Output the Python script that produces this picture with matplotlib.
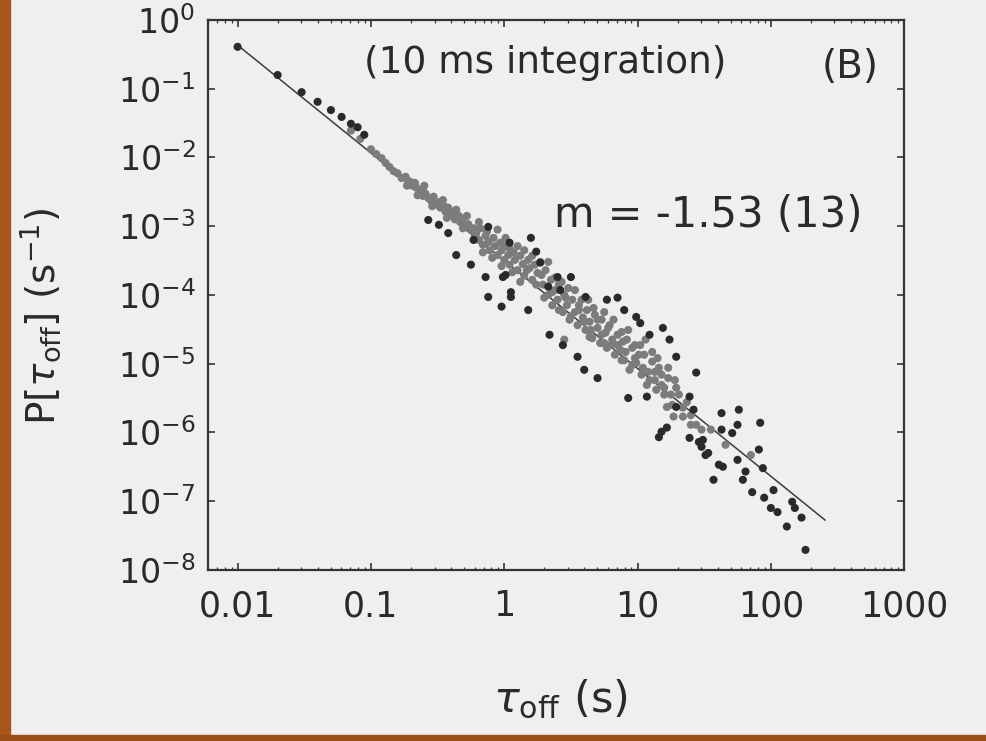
import numpy as np
import matplotlib.pyplot as plt
from matplotlib.patches import Rectangle
from matplotlib.ticker import LogLocator, NullFormatter, FixedLocator, FixedFormatter

plt.rcParams['font.family'] = ['DejaVu Sans']
plt.rcParams['mathtext.fontset'] = 'dejavusans'

# isolated dark dots as log10 values
dark_log_tau = [-2.00, -1.70, -1.52, -1.40, -1.30, -1.22, -1.15, -1.10, -1.05,
                -0.57, -0.49, -0.42, -0.36, -0.25, -0.23, -0.14, -0.12, -0.02, 0.05, -0.01,
                -0.12, 0.20, 0.04, 0.01, 0.05, 0.18, 0.24, 0.27,
                0.33, 0.34, 0.40, 0.42, 0.44, 0.50, 0.55, 0.60, 0.61, 0.70, 0.77, 0.85,
                0.90, 0.99, 1.02, 1.09, 1.19, 0.93, 1.07, 1.16, 1.24, 1.29, 1.18, 1.22,
                1.44, 1.39, 1.39, 1.49, 1.53, 1.63, 1.63, 1.61, 1.57, 1.29, 1.42, 1.46,
                1.51, 1.64, 1.71, 1.76, 1.75, 1.92, 1.91, 1.94, 1.75, 1.79, 1.81, 1.86,
                1.95, 2.02, 2.00, 2.05, 2.16, 2.18, 2.23, 2.12, 2.26, 1.48]
dark_log_p = [-0.39, -0.80, -1.05, -1.19, -1.31, -1.41, -1.51, -1.56, -1.67,
              -2.91, -2.98, -3.10, -3.42, -3.56, -3.20, -3.74, -4.03, -4.17, -4.03, -3.74,
              -3.01, -3.17, -3.24, -3.71, -3.96, -4.22, -3.37, -3.53,
              -3.88, -4.58, -3.74, -3.93, -4.73, -3.74, -4.90, -5.09, -4.03, -5.21, -4.07, -4.04,
              -4.22, -4.32, -4.41, -4.58, -4.48, -5.50, -5.48, -6.07, -4.65, -4.90, -5.99, -5.93,
              -5.13, -5.48, -6.08, -6.11, -6.30, -5.72, -5.96, -6.47, -6.69, -5.63, -5.67, -6.14,
              -6.33, -6.50, -6.01, -5.67, -5.89, -5.86, -6.25, -6.52, -6.40, -6.69, -6.57, -6.87,
              -6.95, -6.84, -7.10, -7.16, -7.01, -7.10, -7.24, -7.37, -7.71, -6.21]

# overlapping grey dots of the dense band
band_log_tau = [-1.15, -1.08, -1.00, -0.96, -0.92, -0.89, -0.86, -0.83, -0.80, -0.77, -0.74,
                -0.72, -0.70, -0.69, -0.73, -0.67,
                -0.66, -0.63, -0.61, -0.61, -0.59, -0.57, -0.55, -0.53, -0.51, -0.49, -0.48,
                -0.45, -0.44, -0.42, -0.40, -0.38, -0.37, -0.34, -0.33, -0.31, -0.29, -0.27,
                -0.25, -0.23,
                -0.65, -0.60, -0.54, -0.46, -0.43, -0.36, -0.31, -0.28, -0.22,
                -0.21, -0.19, -0.18, -0.16, -0.14, -0.12, -0.11, -0.08, -0.07, -0.05, -0.03,
                -0.02, 0.00, 0.01, 0.03, 0.04, 0.07, 0.08, 0.10, 0.12, 0.14, 0.15, 0.18,
                0.19, 0.21, 0.23, 0.25,
                -0.19, -0.16, -0.13, -0.09, -0.05, -0.02, 0.01, 0.04, 0.06, 0.10, 0.12,
                0.15, 0.17, 0.21, 0.24, 0.27,
                0.29, 0.31, 0.33, 0.35, 0.36, 0.38, 0.40, 0.41, 0.44, 0.45, 0.47, 0.49,
                0.51, 0.53, 0.55, 0.56, 0.59, 0.61, 0.62, 0.64, 0.66, 0.68, 0.70, 0.72,
                0.73, 0.76, 0.77, 0.79, 0.81, 0.83, 0.85, 0.64, 0.45, 0.75,
                0.28, 0.30, 0.33, 0.36, 0.38, 0.41, 0.43, 0.46, 0.48, 0.50, 0.53, 0.56,
                0.58, 0.60, 0.63, 0.65, 0.67, 0.70, 0.73, 0.75, 0.78, 0.80, 0.82, 0.85, 0.88,
                0.87, 0.88, 0.90, 0.92, 0.94, 0.96, 0.98, 0.99, 1.02, 1.03, 1.05, 1.07,
                1.09, 1.11, 1.13, 1.14, 1.16, 1.18, 1.20, 1.22, 1.23, 1.27, 1.25, 1.29,
                1.34, 1.40, 1.55, 1.66, 1.85,
                0.89, 0.91, 0.93, 0.96, 0.98, 1.01, 1.04, 1.06, 1.08, 1.11, 1.13, 1.15,
                1.18, 1.20, 1.23, 1.26, 1.28, 1.31, 1.34, 1.37, 1.40, 1.44, 1.48]
band_log_p = [-1.61, -1.73, -1.88, -1.95, -2.01, -2.08, -2.14, -2.20, -2.23, -2.30, -2.28,
              -2.34, -2.36, -2.41, -2.41, -2.37,
              -2.44, -2.50, -2.47, -2.56, -2.53, -2.59, -2.63, -2.57, -2.68, -2.65, -2.73,
              -2.71, -2.79, -2.73, -2.84, -2.79, -2.90, -2.85, -2.94, -2.89, -3.00, -2.97,
              -3.05, -3.03,
              -2.55, -2.41, -2.71, -2.62, -2.88, -2.76, -3.03, -2.85, -3.14,
              -3.10, -3.20, -3.03, -3.27, -3.14, -3.23, -3.35, -3.17, -3.29, -3.42, -3.24,
              -3.35, -3.49, -3.29, -3.42, -3.56, -3.38, -3.49, -3.64, -3.43, -3.55, -3.72, -3.49,
              -3.61, -3.78, -3.56, -3.68,
              -2.94, -3.38, -3.08, -3.46, -3.05, -3.58, -3.17, -3.32, -3.67, -3.29, -3.81,
              -3.35, -3.64, -3.43, -3.85, -3.52,
              -3.85, -3.64, -4.00, -3.78, -4.15, -3.93, -4.07, -3.85, -4.25, -4.00, -4.15, -4.36,
              -4.07, -4.25, -4.44, -4.15, -4.33, -4.51, -4.22, -4.39, -4.63, -4.29, -4.48, -4.70,
              -4.36, -4.55, -4.77, -4.44, -4.65, -4.87, -4.58, -4.61, -4.65, -4.70,
              -3.71, -4.04, -3.52, -3.96, -3.75, -4.22, -3.81, -4.04, -3.90, -4.31, -3.93, -4.22,
              -4.07, -4.39, -4.07, -4.51, -4.19, -4.36, -4.58, -4.25, -4.48, -4.73, -4.36, -4.73, -4.95,
              -4.80, -4.54, -4.95, -4.65, -5.09, -4.77, -4.92, -4.99, -4.73, -5.16, -4.87, -5.31,
              -5.24, -4.97, -5.12, -5.38, -5.06, -5.31, -5.45, -5.63, -5.21, -5.77, -5.45, -5.35,
              -5.77, -5.89, -5.96, -6.18, -6.33,
              -4.68, -4.83, -4.51, -5.02, -4.73, -4.87, -5.06, -4.65, -5.12, -4.83, -5.24, -4.92,
              -5.16, -5.35, -5.06, -5.60, -5.24, -5.45, -5.64, -5.56, -5.75, -5.89, -5.96]

# power-law fit line end points
fit_tau = [0.01, 255.0]
fit_p = [0.43, 5.3e-8]

x_ticks = [0.01, 0.1, 1, 10, 100, 1000]
x_labels = ['0.01', '0.1', '1', '10', '100', '1000']
y_ticks = [1e0, 1e-1, 1e-2, 1e-3, 1e-4, 1e-5, 1e-6, 1e-7, 1e-8]
y_labels = ['$10^{0}$', '$10^{-1}$', '$10^{-2}$', '$10^{-3}$', '$10^{-4}$',
            '$10^{-5}$', '$10^{-6}$', '$10^{-7}$', '$10^{-8}$']

paper = '#efefef'
fig = plt.figure(figsize=(9.86, 7.41), dpi=100, facecolor=paper)
# scan edges: brown frame on the left and bottom
fig.patches.append(Rectangle((0, 0), 10 / 986, 1, transform=fig.transFigure,
                             color='#a9551c', zorder=0))
fig.patches.append(Rectangle((0, 0), 1, 6 / 741, transform=fig.transFigure,
                             color='#9a4f1b', zorder=0))

ax = fig.add_axes([0.211, 0.231, 0.706, 0.742])
ax.set_facecolor('none')

ax.plot(fit_tau, fit_p, color='#3c3c3c', lw=1.1, zorder=2)
ax.scatter(np.power(10.0, band_log_tau), np.power(10.0, band_log_p),
           s=34, color='#7c7c7c', edgecolors='none', zorder=3)
ax.scatter(np.power(10.0, dark_log_tau), np.power(10.0, dark_log_p),
           s=34, color='#2a2a2a', edgecolors='none', zorder=4)

ax.set_xscale('log')
ax.set_yscale('log')
ax.set_xlim(0.006, 1000)
ax.set_ylim(1e-8, 1)

ax.xaxis.set_major_locator(FixedLocator(x_ticks))
ax.xaxis.set_major_formatter(FixedFormatter(x_labels))
ax.yaxis.set_major_locator(FixedLocator(y_ticks))
ax.yaxis.set_major_formatter(FixedFormatter(y_labels))
ax.xaxis.set_minor_locator(LogLocator(base=10, subs=np.arange(2, 10)))
ax.yaxis.set_minor_locator(LogLocator(base=10, subs=np.arange(2, 10)))
ax.xaxis.set_minor_formatter(NullFormatter())
ax.yaxis.set_minor_formatter(NullFormatter())

ax.tick_params(which='both', direction='in', top=True, right=True, color='#333333')
ax.tick_params(which='major', length=5, width=1.2)
ax.tick_params(which='minor', length=2.5, width=0.9)
ax.tick_params(axis='x', labelsize=25, pad=14, labelcolor='#2a2a2a')
ax.tick_params(axis='y', labelsize=24, pad=9, labelcolor='#2a2a2a')
for sp in ax.spines.values():
    sp.set_color('#333333')
    sp.set_linewidth(1.6)

ax.set_xlabel(r'$\tau_{\mathrm{off}}$ (s)', fontsize=31, color='#2a2a2a')
ax.set_ylabel(r'P[$\tau_{\mathrm{off}}$] (s$^{-1}$)', fontsize=28, color='#2a2a2a')
ax.xaxis.set_label_coords(0.506, -0.236)
ax.yaxis.set_label_coords(-0.241, 0.46)
ax.xaxis.label.set_va('center')
ax.yaxis.label.set_va('center')

ax.text(0.484, 0.922, '(10 ms integration)', transform=ax.transAxes,
        fontsize=27, ha='center', va='center', color='#2a2a2a')
ax.text(0.922, 0.915, '(B)', transform=ax.transAxes,
        fontsize=28, ha='center', va='center', color='#2a2a2a')
ax.text(0.718, 0.645, 'm = -1.53 (13)', transform=ax.transAxes,
        fontsize=30, ha='center', va='center', color='#2a2a2a')

plt.savefig('out.png', dpi=100, facecolor=fig.get_facecolor())
